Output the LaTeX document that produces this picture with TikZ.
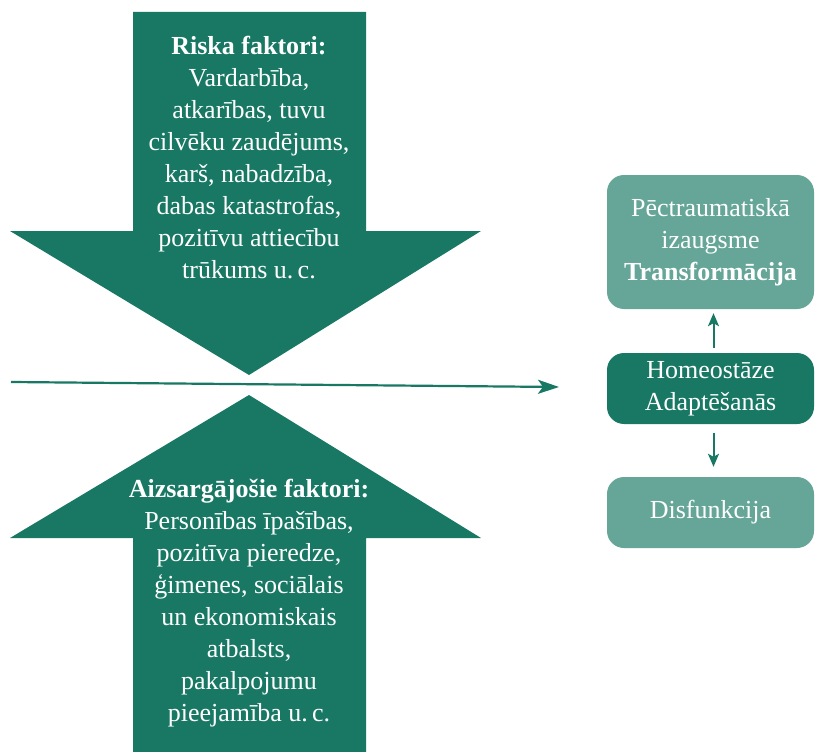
\documentclass[tikz,border=0pt]{standalone}
\usepackage{fontspec}
\setmainfont{Liberation Serif}
\usetikzlibrary{arrows.meta}
\definecolor{deepgreen}{HTML}{187864}
\definecolor{softgreen}{HTML}{65A698}
\begin{document}
\begin{tikzpicture}[x=1pt,y=-1pt,
  txt/.style={text=white, align=center, inner sep=0pt,
    font=\fontsize{26}{32}\selectfont},
  stage/.style={txt, rounded corners=17pt, minimum width=207pt, inner sep=0pt},
  flow/.style={deepgreen, line width=2pt,
    -{Stealth[length=13pt, width=11pt, inset=3pt]}},
  mainflow/.style={deepgreen, line width=2.2pt,
    -{Stealth[length=21pt, width=14pt, inset=5pt]}}]
\useasboundingbox (0,0) rectangle (815,752);

% risk factors pressing down
\fill[deepgreen] (133,12) -- (366,12) -- (366,231) -- (481,231) -- (249,375)
  -- (10,231) -- (133,231) -- cycle;
\node[txt] (risk) at (249,158) {\textbf{Riska faktori:}\\Vardarbība,\\atkarības, tuvu\\cilvēku zaudējums,\\karš, nabadzība,\\dabas katastrofas,\\pozitīvu attiecību\\trūkums u.\,c.};

% protective factors pushing up
\fill[deepgreen] (249,395) -- (481,538) -- (366,538) -- (366,752) -- (133,752)
  -- (133,538) -- (10,538) -- cycle;
\node[txt] (prot) at (249,603) {\textbf{Aizsargājošie faktori:}\\Personības īpašības,\\pozitīva pieredze,\\ģimenes, sociālais\\un ekonomiskais\\atbalsts,\\pakalpojumu\\pieejamība u.\,c.};

% time line
\coordinate (start) at (11,382);
\coordinate (end) at (559,387);
\draw[mainflow] (start) -- (end);

% outcomes
\node[stage, fill=softgreen, minimum height=134pt] (growth) at (710.5,242)
  {Pēctraumatiskā\\izaugsme\\\textbf{Transformācija}};
\node[stage, fill=deepgreen, minimum height=71pt] (homeo) at (710.5,388.5)
  {Homeostāze\\Adaptēšanās};
\node[stage, fill=softgreen, minimum height=71pt] (dys) at (710.5,512.5)
  {Disfunkcija};

\draw[flow, shorten <=5pt, shorten >=4pt] ([xshift=3pt]homeo.north) -- ([xshift=3pt]growth.south);
\draw[flow, shorten <=9pt, shorten >=10pt] ([xshift=3pt]homeo.south) -- ([xshift=3pt]dys.north);
\end{tikzpicture}
\end{document}
